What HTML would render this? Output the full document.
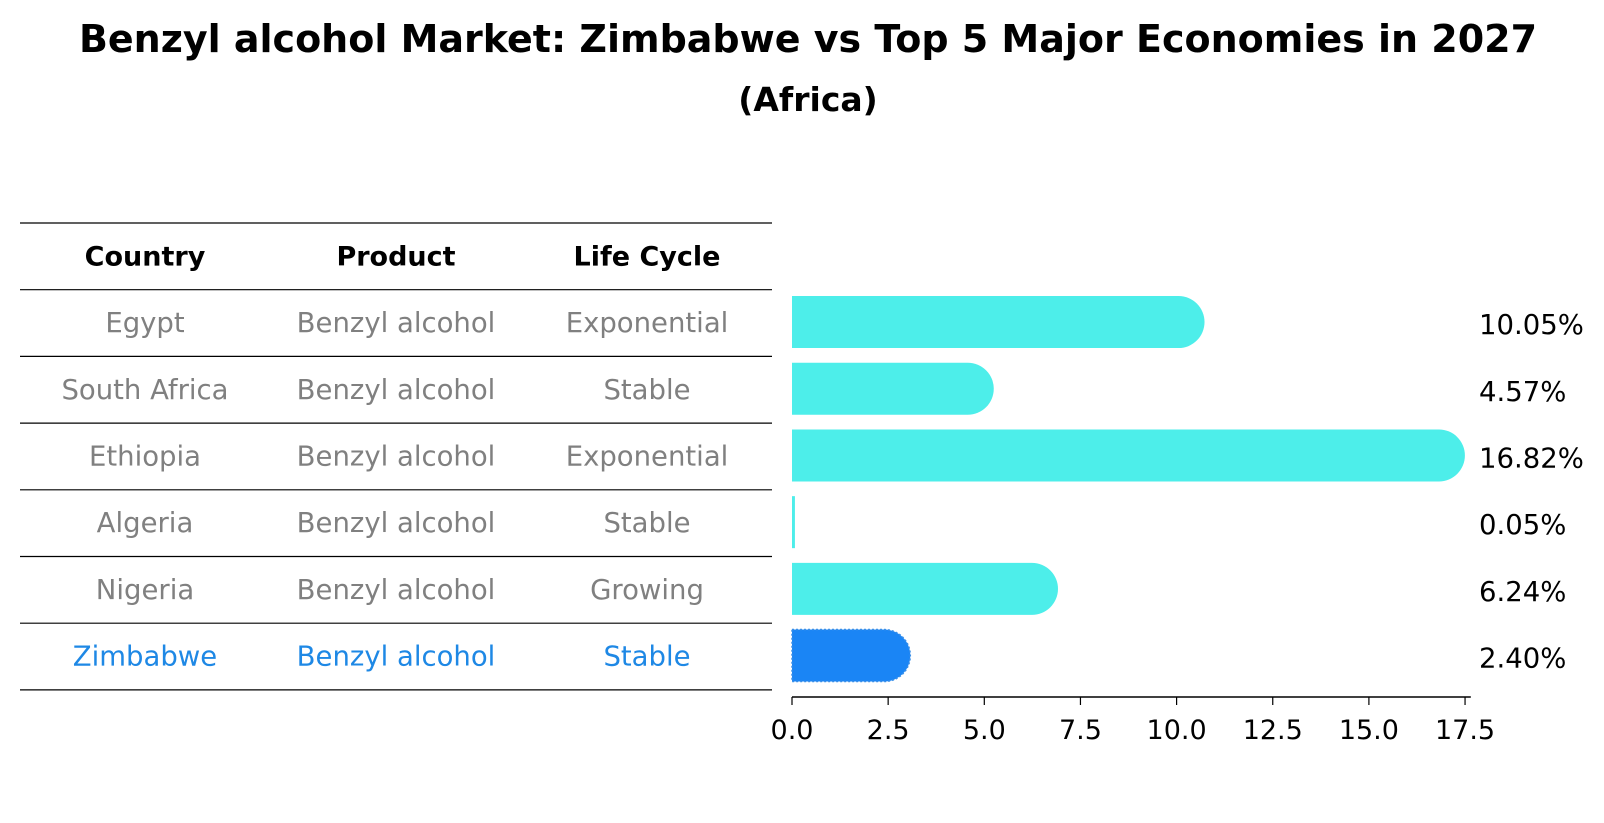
<!DOCTYPE html>
<html><head><meta charset="utf-8"><style>
body{margin:0;background:#fff;}
svg{display:block;font-family:"DejaVu Sans","Liberation Sans",sans-serif;}
</style></head><body>
<svg id="chart" width="1604" height="823" viewBox="0 0 1604 823" xmlns="http://www.w3.org/2000/svg">
<text x="808" y="52" text-anchor="middle" font-size="38" font-weight="bold">Benzyl alcohol Market: Zimbabwe vs Top 5 Major Economies in 2027</text>
<text x="808" y="111" text-anchor="middle" font-size="33" font-weight="bold">(Africa)</text>
<g id="table"></g>
<g id="bars"></g>
<g id="axis"></g>
</svg>
<script>
const countries=["Egypt","South Africa","Ethiopia","Algeria","Nigeria","Zimbabwe"];
const products=["Benzyl alcohol","Benzyl alcohol","Benzyl alcohol","Benzyl alcohol","Benzyl alcohol","Benzyl alcohol"];
const lifeCycles=["Exponential","Stable","Exponential","Stable","Growing","Stable"];
const values=[10.05,4.57,16.82,0.05,6.24,2.40];
const valueLabels=["10.05%","4.57%","16.82%","0.05%","6.24%","2.40%"];
const ticks=[0,2.5,5,7.5,10,12.5,15,17.5];
const tickLabels=["0.0","2.5","5.0","7.5","10.0","12.5","15.0","17.5"];
const headers=["Country","Product","Life Cycle"];

const NS="http://www.w3.org/2000/svg";
const x0=792,pxPer=38.46;
function xs(v){return x0+v*pxPer;}
const rowTop=223,rowH=66.7;
function rowY(i){return rowTop+rowH*(i+1)+rowH/2;}
function mk(tag,attrs,parent){const e=document.createElementNS(NS,tag);for(const k in attrs)e.setAttribute(k,attrs[k]);parent.appendChild(e);return e;}
const table=document.getElementById('table'),bars=document.getElementById('bars'),axis=document.getElementById('axis');
const colX=[145,396,647];
for(let i=0;i<=countries.length+1;i++){
  const l=mk('line',{x1:20,x2:772,y1:rowTop+rowH*i,y2:rowTop+rowH*i,stroke:'#000','stroke-width':1.2},table);
  
  
}
headers.forEach((h,j)=>{
  const t=mk('text',{x:colX[j],y:rowTop+rowH/2+9,'text-anchor':'middle','font-size':27,'font-weight':'bold'},table);
  t.textContent=h;
  
  
});
countries.forEach((c,i)=>{
  const col=c==="Zimbabwe"?'#1e88e5':'#808080';
  [c,products[i],lifeCycles[i]].forEach((s,j)=>{
    const t=mk('text',{x:colX[j],y:rowY(i)+9,'text-anchor':'middle','font-size':27.5,fill:col},table);
    t.textContent=s;
    
    
  });
  const y=rowY(i)-1,h=52,r=h/2,xe=xs(values[i]);
  const isZ=c==="Zimbabwe";
  let d;
  if(values[i]<0.5){d=`M${x0} ${y-r}H${xe+1}V${y+r}H${x0}Z`;}
  else d=`M${x0} ${y-r}H${xe} A${r} ${r} 0 0 1 ${xe} ${y+r} H${x0}Z`;
  const b=mk('path',{d:d,fill:isZ?'#1a85f5':'#4deeea'},bars);
  if(isZ){b.setAttribute('stroke','#3a8fe8');b.setAttribute('stroke-dasharray','2 2');b.setAttribute('stroke-width','1.5');}
  
  
  const t=mk('text',{x:1479,y:y+12,'font-size':27.5},bars);
  t.textContent=valueLabels[i];
  
  
});
const ax=mk('line',{x1:x0,x2:xs(17.65),y1:697,y2:697,stroke:'#000','stroke-width':1.5},axis);


ticks.forEach((v,i)=>{
  const tk=mk('line',{x1:xs(v),x2:xs(v),y1:697,y2:705,stroke:'#000','stroke-width':1.2},axis);
  
  
  const t=mk('text',{x:xs(v),y:739,'text-anchor':'middle','font-size':27},axis);
  t.textContent=tickLabels[i];
  
  
});
</script>
</body></html>
